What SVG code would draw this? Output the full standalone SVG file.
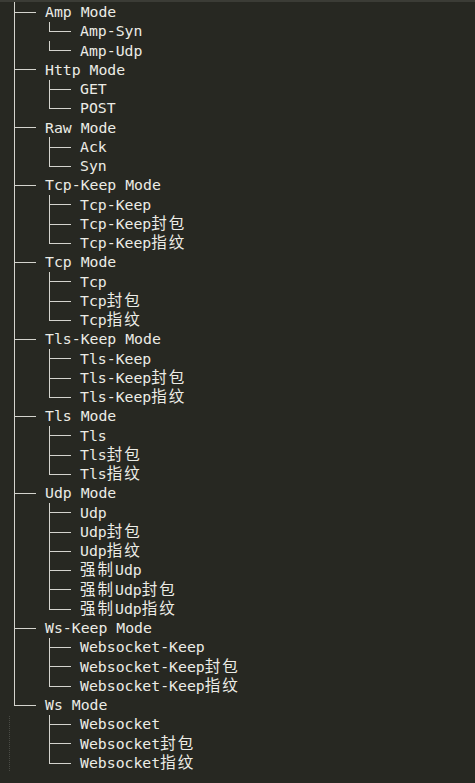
<svg xmlns="http://www.w3.org/2000/svg" width="475" height="783" viewBox="0 0 475 783">
<style>
text{font-family:"DejaVu Sans Mono","Liberation Mono","Noto Sans CJK SC",monospace;font-size:14.8px;fill:#ecece6}
.c{font-family:"Noto Sans CJK SC",sans-serif;font-size:15.5px;letter-spacing:2px}
#connectors line{stroke:#d4d4ce;stroke-width:1}
</style>
<rect x="0" y="0" width="475" height="783" fill="#272822"/>
<rect x="0" y="0" width="475" height="2" fill="#3b3c36"/>
<g id="connectors" shape-rendering="crispEdges">
<line x1="14.5" y1="2" x2="14.5" y2="705.5"/>
<line x1="9.5" y1="716" x2="9.5" y2="772" style="stroke:#4a4b45;stroke-dasharray:1 1"/>
<line x1="14.5" y1="12.5" x2="36" y2="12.5"/>
<line x1="14.5" y1="69.5" x2="36" y2="69.5"/>
<line x1="14.5" y1="127.5" x2="36" y2="127.5"/>
<line x1="14.5" y1="185.5" x2="36" y2="185.5"/>
<line x1="14.5" y1="262.5" x2="36" y2="262.5"/>
<line x1="14.5" y1="339.5" x2="36" y2="339.5"/>
<line x1="14.5" y1="416.5" x2="36" y2="416.5"/>
<line x1="14.5" y1="493.5" x2="36" y2="493.5"/>
<line x1="14.5" y1="628.5" x2="36" y2="628.5"/>
<line x1="14.5" y1="705.5" x2="36" y2="705.5"/>
<line x1="49.5" y1="22" x2="49.5" y2="31.5"/>
<line x1="49.5" y1="41" x2="49.5" y2="50.5"/>
<line x1="49.5" y1="79.5" x2="49.5" y2="108.5"/>
<line x1="49.5" y1="137" x2="49.5" y2="166.5"/>
<line x1="49.5" y1="195" x2="49.5" y2="243.5"/>
<line x1="49.5" y1="272" x2="49.5" y2="320.5"/>
<line x1="49.5" y1="349" x2="49.5" y2="397.5"/>
<line x1="49.5" y1="426" x2="49.5" y2="474.5"/>
<line x1="49.5" y1="503" x2="49.5" y2="609.5"/>
<line x1="49.5" y1="638" x2="49.5" y2="686.5"/>
<line x1="49.5" y1="715" x2="49.5" y2="763.5"/>
<line x1="49.5" y1="31.5" x2="71" y2="31.5"/>
<line x1="49.5" y1="50.5" x2="71" y2="50.5"/>
<line x1="49.5" y1="89.5" x2="71" y2="89.5"/>
<line x1="49.5" y1="108.5" x2="71" y2="108.5"/>
<line x1="49.5" y1="147.5" x2="71" y2="147.5"/>
<line x1="49.5" y1="166.5" x2="71" y2="166.5"/>
<line x1="49.5" y1="204.5" x2="71" y2="204.5"/>
<line x1="49.5" y1="224.5" x2="71" y2="224.5"/>
<line x1="49.5" y1="243.5" x2="71" y2="243.5"/>
<line x1="49.5" y1="281.5" x2="71" y2="281.5"/>
<line x1="49.5" y1="301.5" x2="71" y2="301.5"/>
<line x1="49.5" y1="320.5" x2="71" y2="320.5"/>
<line x1="49.5" y1="358.5" x2="71" y2="358.5"/>
<line x1="49.5" y1="378.5" x2="71" y2="378.5"/>
<line x1="49.5" y1="397.5" x2="71" y2="397.5"/>
<line x1="49.5" y1="435.5" x2="71" y2="435.5"/>
<line x1="49.5" y1="455.5" x2="71" y2="455.5"/>
<line x1="49.5" y1="474.5" x2="71" y2="474.5"/>
<line x1="49.5" y1="512.5" x2="71" y2="512.5"/>
<line x1="49.5" y1="532.5" x2="71" y2="532.5"/>
<line x1="49.5" y1="551.5" x2="71" y2="551.5"/>
<line x1="49.5" y1="570.5" x2="71" y2="570.5"/>
<line x1="49.5" y1="589.5" x2="71" y2="589.5"/>
<line x1="49.5" y1="609.5" x2="71" y2="609.5"/>
<line x1="49.5" y1="647.5" x2="71" y2="647.5"/>
<line x1="49.5" y1="666.5" x2="71" y2="666.5"/>
<line x1="49.5" y1="686.5" x2="71" y2="686.5"/>
<line x1="49.5" y1="724.5" x2="71" y2="724.5"/>
<line x1="49.5" y1="743.5" x2="71" y2="743.5"/>
<line x1="49.5" y1="763.5" x2="71" y2="763.5"/>
</g>
<g id="amp-mode"><text x="45" y="17">Amp Mode</text></g>
<g id="amp-syn"><text x="80" y="36.25">Amp-Syn</text></g>
<g id="amp-udp"><text x="80" y="55.5">Amp-Udp</text></g>
<g id="http-mode"><text x="45" y="74.75">Http Mode</text></g>
<g id="get"><text x="80" y="94">GET</text></g>
<g id="post"><text x="80" y="113.25">POST</text></g>
<g id="raw-mode"><text x="45" y="132.5">Raw Mode</text></g>
<g id="ack"><text x="80" y="151.75">Ack</text></g>
<g id="syn"><text x="80" y="171">Syn</text></g>
<g id="tcp-keep-mode"><text x="45" y="190.25">Tcp-Keep Mode</text></g>
<g id="tcp-keep"><text x="80" y="209.5">Tcp-Keep</text></g>
<g id="tcp-keep-fb"><text x="80" y="228.75">Tcp-Keep<tspan class="c">封包</tspan></text></g>
<g id="tcp-keep-zw"><text x="80" y="248">Tcp-Keep<tspan class="c">指纹</tspan></text></g>
<g id="tcp-mode"><text x="45" y="267.25">Tcp Mode</text></g>
<g id="tcp"><text x="80" y="286.5">Tcp</text></g>
<g id="tcp-fb"><text x="80" y="305.75">Tcp<tspan class="c">封包</tspan></text></g>
<g id="tcp-zw"><text x="80" y="325">Tcp<tspan class="c">指纹</tspan></text></g>
<g id="tls-keep-mode"><text x="45" y="344.25">Tls-Keep Mode</text></g>
<g id="tls-keep"><text x="80" y="363.5">Tls-Keep</text></g>
<g id="tls-keep-fb"><text x="80" y="382.75">Tls-Keep<tspan class="c">封包</tspan></text></g>
<g id="tls-keep-zw"><text x="80" y="402">Tls-Keep<tspan class="c">指纹</tspan></text></g>
<g id="tls-mode"><text x="45" y="421.25">Tls Mode</text></g>
<g id="tls"><text x="80" y="440.5">Tls</text></g>
<g id="tls-fb"><text x="80" y="459.75">Tls<tspan class="c">封包</tspan></text></g>
<g id="tls-zw"><text x="80" y="479">Tls<tspan class="c">指纹</tspan></text></g>
<g id="udp-mode"><text x="45" y="498.25">Udp Mode</text></g>
<g id="udp"><text x="80" y="517.5">Udp</text></g>
<g id="udp-fb"><text x="80" y="536.75">Udp<tspan class="c">封包</tspan></text></g>
<g id="udp-zw"><text x="80" y="556">Udp<tspan class="c">指纹</tspan></text></g>
<g id="force-udp"><text x="80" y="575.25"><tspan class="c">强制</tspan>Udp</text></g>
<g id="force-udp-fb"><text x="80" y="594.5"><tspan class="c">强制</tspan>Udp<tspan class="c">封包</tspan></text></g>
<g id="force-udp-zw"><text x="80" y="613.75"><tspan class="c">强制</tspan>Udp<tspan class="c">指纹</tspan></text></g>
<g id="ws-keep-mode"><text x="45" y="633">Ws-Keep Mode</text></g>
<g id="websocket-keep"><text x="80" y="652.25">Websocket-Keep</text></g>
<g id="websocket-keep-fb"><text x="80" y="671.5">Websocket-Keep<tspan class="c">封包</tspan></text></g>
<g id="websocket-keep-zw"><text x="80" y="690.75">Websocket-Keep<tspan class="c">指纹</tspan></text></g>
<g id="ws-mode"><text x="45" y="710">Ws Mode</text></g>
<g id="websocket"><text x="80" y="729.25">Websocket</text></g>
<g id="websocket-fb"><text x="80" y="748.5">Websocket<tspan class="c">封包</tspan></text></g>
<g id="websocket-zw"><text x="80" y="767.75">Websocket<tspan class="c">指纹</tspan></text></g>
</svg>
